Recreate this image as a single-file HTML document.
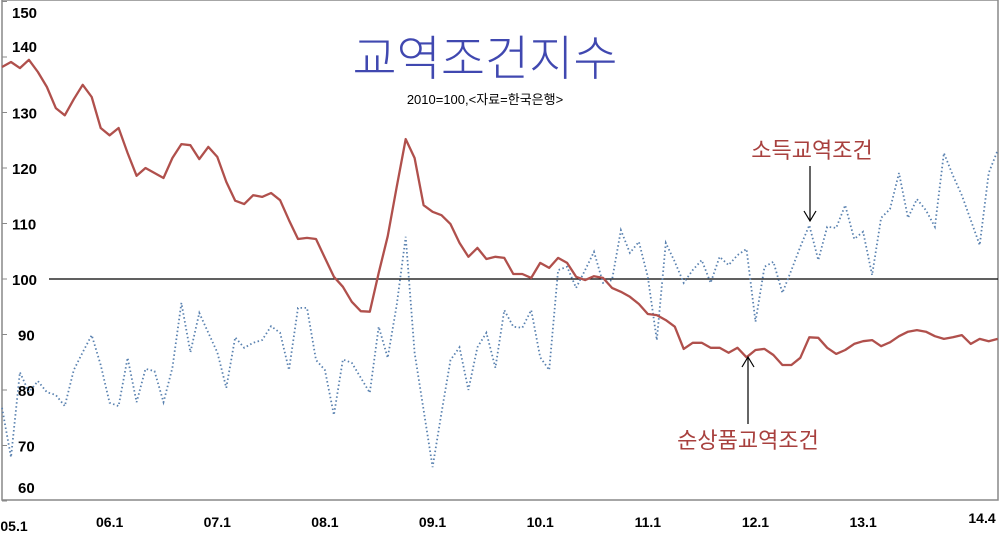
<!DOCTYPE html>
<html><head><meta charset="utf-8"><style>
body{margin:0;background:#fff;}
svg{display:block;font-family:"Liberation Sans","Noto Sans CJK KR",sans-serif;}
</style></head><body>
<svg width="1005" height="535" viewBox="0 0 1005 535">
<rect x="2" y="0" width="996" height="500" fill="none" stroke="#888" stroke-width="1.5"/>
<g id="yticks"></g>
<g id="xticks"></g>
<line id="ref" stroke="#000" stroke-width="1.3"/>
<path id="income" fill="none" stroke="#5a82b0" stroke-width="1.8" stroke-dasharray="1.5,2.5"/>
<path id="net" fill="none" stroke="#b0504c" stroke-width="2.3" stroke-linejoin="round"/>
<text x="485" y="75" text-anchor="middle" font-size="48" font-weight="300" fill="#4048b0" font-family="'Noto Sans CJK KR',sans-serif">교역조건지수</text>
<text x="485" y="104" text-anchor="middle" font-size="13" fill="#000">2010=100,&lt;자료=한국은행&gt;</text>
<text x="812" y="158" text-anchor="middle" font-size="22" fill="#a8403e" font-family="'Noto Sans CJK KR',sans-serif">소득교역조건</text>
<line x1="810" y1="166" x2="810" y2="221" stroke="#000" stroke-width="1.2"/>
<path d="M804,211 L810,221 L816,211" fill="none" stroke="#000" stroke-width="1.2"/>
<text x="748" y="448" text-anchor="middle" font-size="22" fill="#a8403e" font-family="'Noto Sans CJK KR',sans-serif">순상품교역조건</text>
<line x1="748" y1="424" x2="748" y2="357" stroke="#000" stroke-width="1.2"/>
<path d="M742,367 L748,357 L754,367" fill="none" stroke="#000" stroke-width="1.2"/>
</svg>
<script>
const netValues=[138.2,139.1,138.0,139.5,137.3,134.6,130.8,129.5,132.4,135.0,132.8,127.2,125.9,127.2,122.7,118.6,120.0,119.1,118.2,121.8,124.3,124.1,121.6,123.8,122.0,117.5,114.1,113.5,115.1,114.8,115.5,114.2,110.6,107.2,107.4,107.2,103.8,100.4,98.6,95.9,94.2,94.1,101.1,107.7,116.6,125.2,121.8,113.3,112.1,111.5,109.9,106.5,104.0,105.6,103.6,104.0,103.8,100.9,100.9,100.2,102.9,102.0,103.8,102.9,100.4,99.8,100.5,100.2,98.4,97.7,96.8,95.5,93.7,93.5,92.6,91.4,87.4,88.5,88.5,87.6,87.6,86.7,87.6,85.9,87.2,87.4,86.3,84.5,84.5,85.8,89.5,89.4,87.6,86.5,87.2,88.3,88.8,89.0,87.9,88.6,89.7,90.5,90.8,90.5,89.7,89.2,89.5,89.9,88.3,89.2,88.8,89.2];
const incomeValues=[76.8,67.9,83.2,79.6,81.6,79.6,79.1,77.1,83.6,86.8,89.9,84.5,77.7,77.1,85.8,77.8,83.8,83.4,77.8,84.0,95.7,86.8,93.9,90.3,86.8,80.4,89.5,87.6,88.5,89.0,91.5,90.3,83.6,94.8,94.8,85.4,83.6,75.5,85.5,84.9,82.2,79.5,91.4,85.8,95.3,107.6,86.7,76.4,66.1,75.9,85.4,87.7,80.0,87.7,90.3,84.0,94.4,91.4,91.2,94.4,85.9,83.6,101.6,102.2,98.4,101.6,104.9,99.3,99.8,108.8,104.7,106.7,100.4,89.0,106.5,103.1,99.3,101.6,103.4,99.3,104.0,102.5,104.3,105.4,92.3,102.2,103.1,97.5,101.6,105.8,109.7,103.4,109.4,109.2,113.3,107.2,108.5,100.7,111.0,112.6,119.1,111.0,114.4,112.4,109.4,122.7,118.7,115.1,110.6,106.1,119.1,123.2];
const yTickValues=[60,70,80,90,100,110,120,130,140,150];
const xTickLabels=["05.1","06.1","07.1","08.1","09.1","10.1","11.1","12.1","13.1","14.4"];
const xTickMonths=[0,12,24,36,48,60,72,84,96,111];
const NS="http://www.w3.org/2000/svg";
function xs(m){return 2+m*8.97;}
function ys(v){return 279-(v-100)*5.55;}
function pathOf(arr){return arr.map((v,i)=>(i?"L":"M")+xs(i).toFixed(1)+","+ys(v).toFixed(1)).join(" ");}
document.getElementById("net").setAttribute("d",pathOf(netValues));
document.getElementById("income").setAttribute("d",pathOf(incomeValues));
const ref=document.getElementById("ref");
ref.setAttribute("x1",49);ref.setAttribute("x2",998);
ref.setAttribute("y1",ys(100));ref.setAttribute("y2",ys(100));
const yg=document.getElementById("yticks");
yTickValues.forEach(v=>{
  const y=ys(v);
  const t=document.createElementNS(NS,"line");
  t.setAttribute("x1",2);t.setAttribute("x2",7);t.setAttribute("y1",y);t.setAttribute("y2",y);
  t.setAttribute("stroke","#888");
  
  
  yg.appendChild(t);
  const tx=document.createElementNS(NS,"text");
  let ly=y+6; if(v===150) ly=18; if(v===140) ly=52; if(v===60) ly=493;
  tx.setAttribute("x",v>=100?12:18);tx.setAttribute("y",ly);
  tx.setAttribute("font-size","15");tx.setAttribute("font-weight","bold");
  tx.textContent=v;
  
  
  yg.appendChild(tx);
});
const xg=document.getElementById("xticks");
xTickLabels.forEach((lab,i)=>{
  const tx=document.createElementNS(NS,"text");
  let x=xs(xTickMonths[i]); let y=527;
  if(i===0){x=14;y=531;} if(i===xTickLabels.length-1){x=982;y=523;}
  tx.setAttribute("x",x);tx.setAttribute("y",y);
  tx.setAttribute("text-anchor","middle");
  tx.setAttribute("font-size","14");tx.setAttribute("font-weight","bold");
  tx.textContent=lab;
  
  
  xg.appendChild(tx);
});
</script>
</body></html>
